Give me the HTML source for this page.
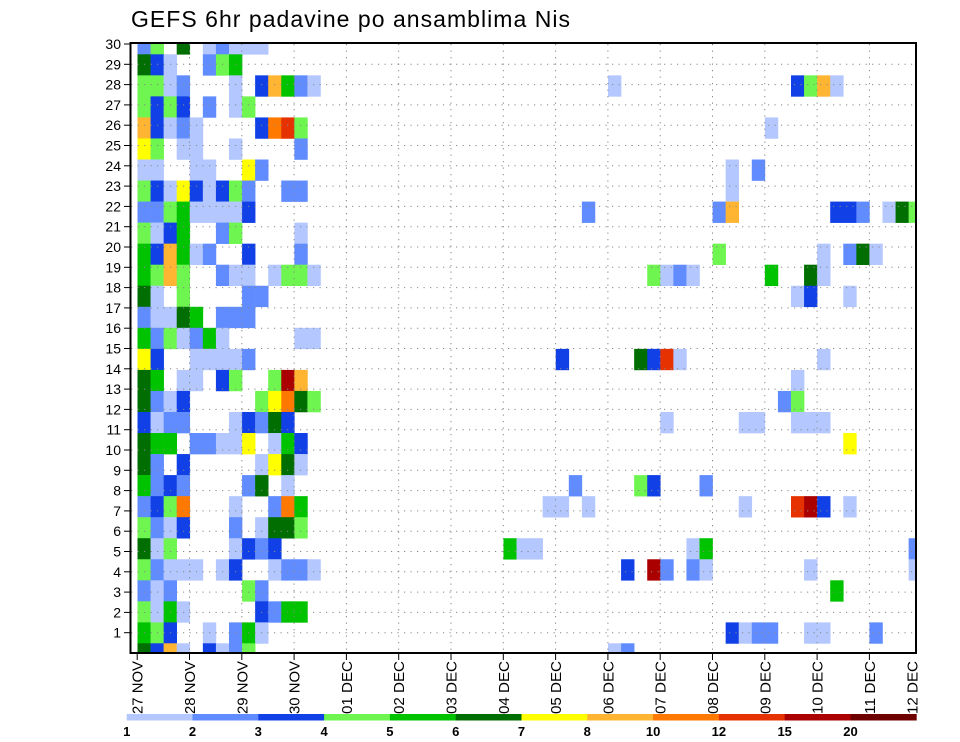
<!DOCTYPE html>
<html><head><meta charset="utf-8"><style>
html,body{margin:0;padding:0;background:#fff;}
svg{display:block;font-family:"Liberation Sans",sans-serif;}
</style></head><body>
<svg id="s" width="960" height="742" xmlns="http://www.w3.org/2000/svg">
<rect width="960" height="742" fill="#fff"/>
<text x="131" y="27" font-size="23" textLength="439" lengthAdjust="spacing" fill="#000">GEFS 6hr padavine po ansamblima Nis</text>
<g id="cells"></g>
<g id="grid" stroke="#888" stroke-width="1" stroke-dasharray="1.2,5.3"></g>
<rect x="130.5" y="43" width="785.5" height="610" fill="none" stroke="#000" stroke-width="2"/>
<g id="axes"></g>
<g id="cbar"></g>
</svg>
<script>
var NS="http://www.w3.org/2000/svg";
var C={"1":"#b4c8ff","2":"#608cff","3":"#1040e6","4":"#6ef550","5":"#00c300","6":"#006e00","7":"#ffff00","8":"#ffb432","9":"#ff7800","a":"#e63200","b":"#aa0000","c":"#6e0000"};
var left=["24.6.12111","631..245","4412...1.38521","4343.2.14","83121....39a4","74.11..1....2","11..11..72","431731342..22","224511113","4135..24....1","538512..3...2","5484..211.1441","61.4....22","21165.222","5241251.....11","73..11112","65.11.34..4b8","6213.....47964","3122...13263","655.22117.153","62.3.....1761","5232....26.1","2349...1..295","4213...2.1664","614....1323","42111.13..1221","212.....42","4151.....3255","543..1.251","6381.3124"];
var right={2:{36:1,50:3,51:4,52:8,53:1},4:{48:1},6:{45:1,47:2},7:{45:1},8:{34:2,44:2,45:8,53:3,54:3,55:2,57:1,58:6,59:4},10:{44:4,52:1,54:2,55:6,56:1},11:{39:4,40:1,41:2,42:1,48:5,51:6,52:1},12:{50:1,51:3,54:1},15:{32:3,38:6,39:3,40:"a",41:1,52:1},16:{50:1},17:{49:2,50:4},18:{40:1,46:1,47:1,50:1,51:1,52:1},19:{54:7},21:{33:2,38:4,39:3,43:2},22:{31:1,32:1,34:1,46:1,50:"a",51:"b",52:3,54:1},24:{28:5,29:1,30:1,42:1,43:5,59:2},25:{37:3,39:"b",40:2,42:2,43:1,51:1,59:1},26:{53:5},28:{45:3,46:1,47:2,48:2,51:1,52:1,56:2},29:{36:1,37:2}};
function el(t,a,p){var e=document.createElementNS(NS,t);for(var k in a)e.setAttribute(k,a[k]);if(p)p.appendChild(e);return e;}
var g=document.getElementById("cells");
function band(b){if(b==0)return[44,54.3];if(b==29)return[643.3,653];var y=54.3+21.04*(b-1);return[y,y+21.04];}
function cell(b,c,code){var x=137.5+13.07*c,w=13.07;if(x+w>916)w=916-x;var r=band(b);el("rect",{x:x,y:r[0],width:w+0.3,height:r[1]-r[0]+0.3,fill:C[code]},g);}
for(var b=0;b<30;b++){var s=left[b];for(var c=0;c<s.length;c++){if(s[c]!=".")cell(b,c,s[c]);}
 if(right[b])for(var k in right[b])cell(b,+k,String(right[b][k]));}
var gr=document.getElementById("grid");
for(var k=1;k<30;k++){var y=653-20.3*k;el("line",{x1:131,y1:y,x2:915,y2:y},gr);}
for(var d=1;d<15;d++){var x=137.2+52.3*d;el("line",{x1:x,y1:44,x2:x,y2:652},gr);}
var ax=document.getElementById("axes");
for(var k=1;k<=30;k++){var y=653-20.3*k;el("line",{x1:124,y1:y,x2:130.5,y2:y,stroke:"#000","stroke-width":1},ax);
 var t=el("text",{x:121,y:y+5,"font-size":14,"text-anchor":"end",fill:"#000"},ax);t.textContent=k;}
var lab=["27 NOV","28 NOV","29 NOV","30 NOV","01 DEC","02 DEC","03 DEC","04 DEC","05 DEC","06 DEC","07 DEC","08 DEC","09 DEC","10 DEC","11 DEC","12 DEC"];
for(var d=0;d<16;d++){var x=137.2+52.3*d;if(d==15)x=912;
 if(d<15)el("line",{x1:x,y1:653,x2:x,y2:660,stroke:"#000","stroke-width":1},ax);
 var t=el("text",{x:0,y:0,"font-size":15,"text-anchor":"end",fill:"#000",textLength:53,lengthAdjust:"spacingAndGlyphs",transform:"translate("+(x+5.5)+",661) rotate(-90)"},ax);t.textContent=lab[d];}
var cb=document.getElementById("cbar");var keys="123456789abc";var vals=["1","2","3","4","5","6","7","8","10","12","15","20"];
for(var i=0;i<12;i++){var x=126.7+65.8*i;el("rect",{x:x,y:714,width:66.2,height:6.5,fill:C[keys[i]]},cb);
 var t=el("text",{x:x,y:736,"font-size":13,"font-weight":"bold","text-anchor":"middle",fill:"#000"},cb);t.textContent=vals[i];}
</script>
</body></html>
